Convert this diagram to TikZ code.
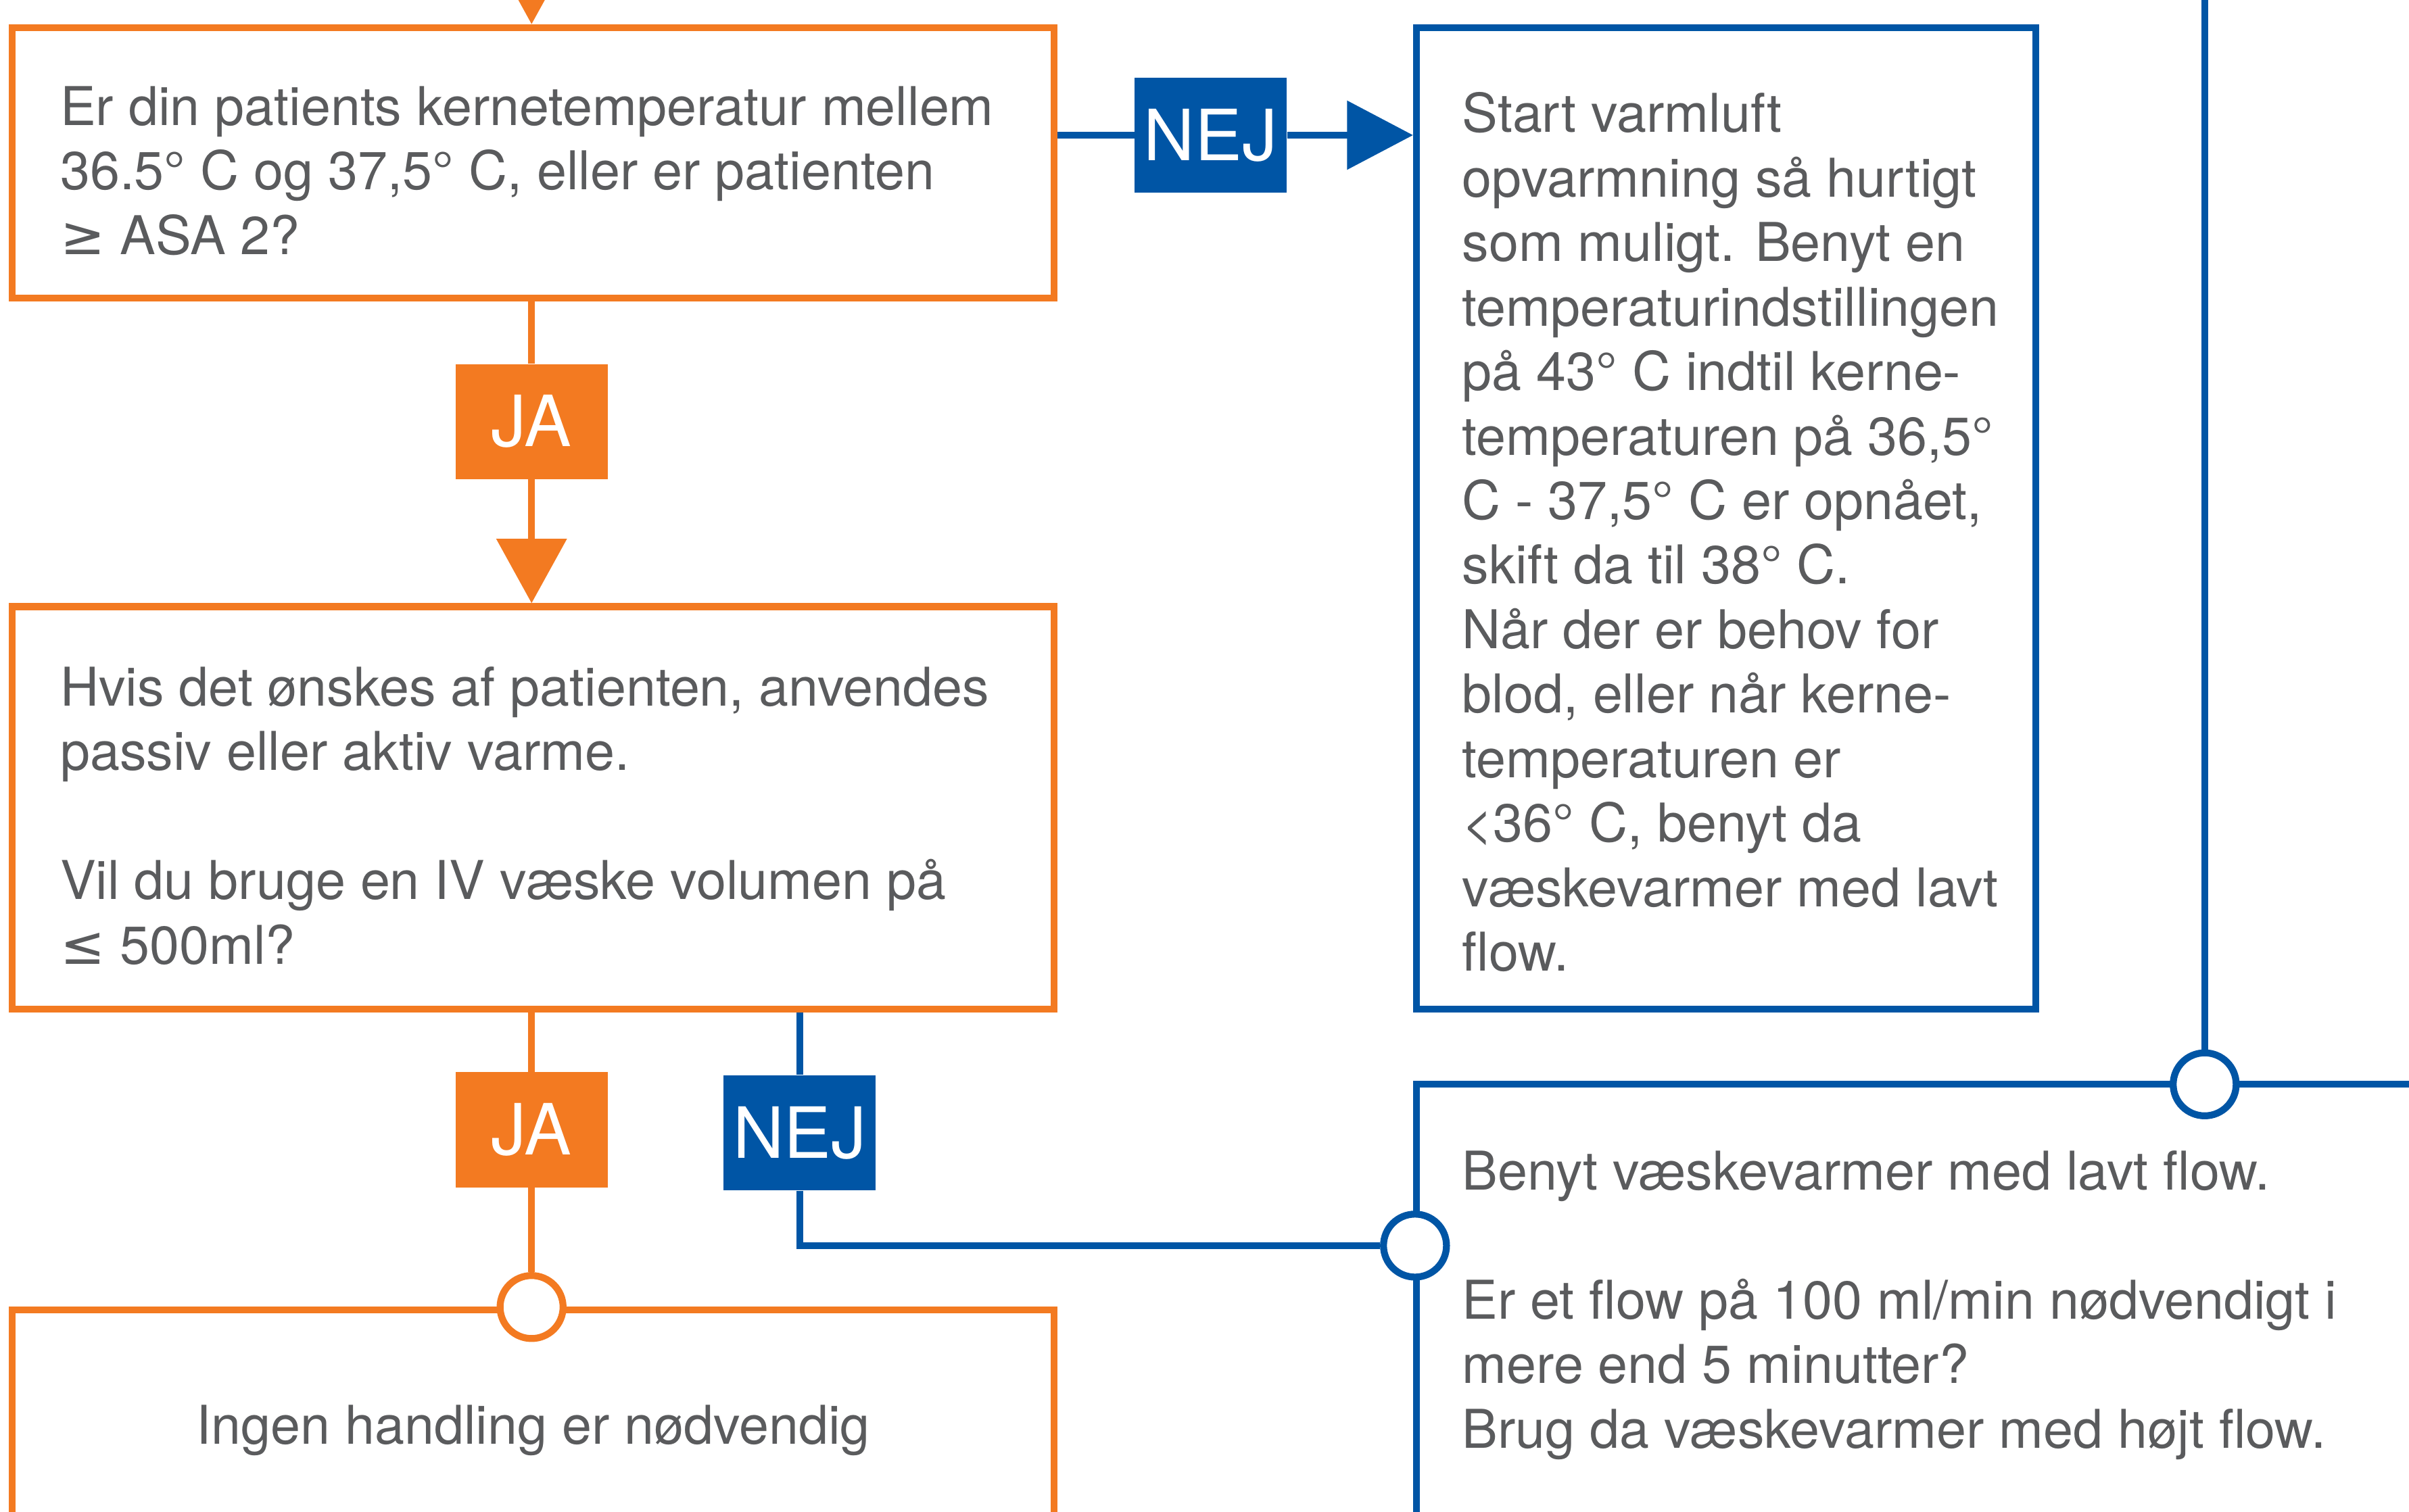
\documentclass[tikz,border=0pt]{standalone}
\usepackage{fontspec}
\setmainfont{TeX Gyre Heros}
\newfontfamily\cmpfont{DejaVu Sans}
\usetikzlibrary{arrows.meta,positioning}
\definecolor{orangeline}{HTML}{F37A21}
\definecolor{blueline}{HTML}{0055A5}
\definecolor{textgray}{HTML}{5A5B5D}
\tikzset{
  obox/.style={draw=orangeline, line width=4.5pt, minimum width=678pt, inner sep=0pt},
  bbox/.style={draw=blueline, line width=4.5pt, inner sep=0pt},
  txt/.style={text=textgray, font=\fontsize{34.8}{42}\selectfont, align=left, inner sep=0pt},
  otag/.style={fill=orangeline, text=white, font=\fontsize{46}{54}\selectfont, minimum width=99pt, minimum height=75pt, inner sep=0pt},
  btag/.style={otag, fill=blueline},
  ojoint/.style={circle, draw=orangeline, fill=white, line width=4.5pt, minimum size=41pt, inner sep=0pt},
  bjoint/.style={ojoint, draw=blueline},
  oline/.style={draw=orangeline, line width=4.5pt},
  bline/.style={draw=blueline, line width=4.5pt},
  otip/.style={-{Triangle[width=45pt,length=42pt]}},
}

\begin{document}
\begin{tikzpicture}[x=1pt,y=-1pt]
		%%%%% START %%%%%
		\useasboundingbox (0,0) rectangle (1568,984.4);
		\clip (0,0) rectangle (1568,984.4);
		
		% boxes
		\node[obox, minimum height=176pt] (q1) at (347,106) {};
		\node[obox, minimum height=262pt] (q2) at (347,526) {};
		\node[obox, txt, align=center, minimum height=157pt] (q3) at (347,931.5) {Ingen handling er nødvendig};
		\node[bbox, minimum width=403pt, minimum height=639pt] (act1) at (1123.5,337.5) {};
		\node[bbox, minimum width=778pt, minimum height=304pt] (act2) at (1311,858) {};
		
		% texts
		\node[txt, anchor=north west] (q1t) at (39,56) {Er din patients kernetemperatur mellem\\36.5° C og 37,5° C, eller er patienten\\{\cmpfont ≥} ASA 2?};
		\node[txt, anchor=north west] (q2t) at (39,434) {Hvis det ønskes af patienten, anvendes\\passiv eller aktiv varme.\\[42pt]Vil du bruge en IV væske volumen på\\{\cmpfont ≤} 500ml?};
		\node[txt, anchor=north west] (act1t) at (951.5,60) {Start varmluft\\opvarmning så hurtigt\\som muligt. Benyt en\\temperaturindstillingen\\på 43° C indtil kerne-\\temperaturen på 36,5°\\C - 37,5° C er opnået,\\skift da til 38° C.\\Når der er behov for\\blod, eller når kerne-\\temperaturen er\\<36° C, benyt da\\væskevarmer med lavt\\flow.};
		\node[txt, anchor=north west] (act2t) at (951.5,749) {Benyt væskevarmer med lavt flow.\\[42pt]Er et flow på 100 ml/min nødvendigt i\\mere end 5 minutter?\\Brug da væskevarmer med højt flow.};
		
		% answers
		\node[otag] (ja1) at (346,274.5) {JA};
		\node[btag] (nej1) at (788,88) {NEJ};
		\node[otag] (ja2) at (346,735.5) {JA};
		\node[btag] (nej2) at (520.5,737.5) {NEJ};
		
		% joints
		\node[ojoint] (oc) at (346,851) {};
		\node[bjoint] (bc1) at (921,811) {};
		\node[bjoint] (bc2) at (1435,706) {};
		
		\coordinate (intop) at (346,-40);
		\coordinate (infeed) at (1435,-20);
		
		% connectors
		\draw[oline, otip] (intop) -- (intop |- q1.north);
		\draw[oline] (ja1 |- q1.south) -- (ja1);
		\draw[oline, otip] (ja1) -- (ja1 |- q2.north);
		\draw[oline] (ja2 |- q2.south) -- (ja2);
		\draw[oline] (ja2) -- (oc);
		
		\draw[bline] (q1.east |- nej1) -- (nej1);
		\draw[bline, -{Triangle[width=44pt,length=43pt]}] (nej1) -- (nej1 -| act1.west);
		\draw[bline] (nej2 |- q2.south) -- (nej2);
		\draw[bline] (nej2) |- (bc1);
		\draw[bline] (infeed) -- (bc2);
		
		%%%%% END %%%%%
\end{tikzpicture}
\end{document}
